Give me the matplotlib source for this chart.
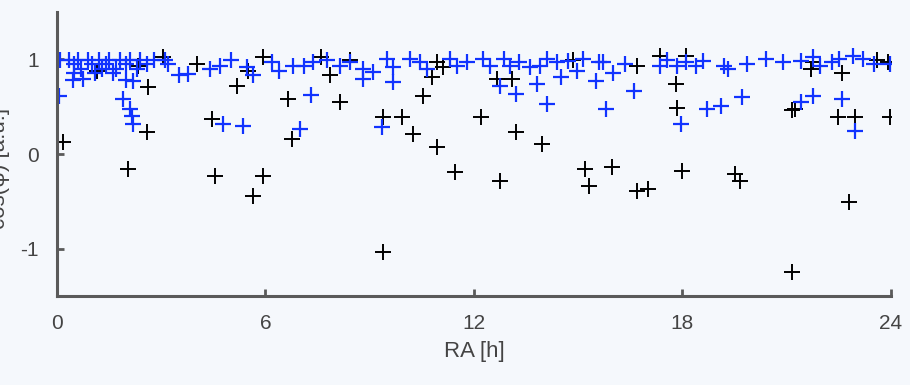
import matplotlib
matplotlib.use('Agg')
import matplotlib.pyplot as plt

# black series (RA [h], value)
black_ra = [0.18, 2.05, 2.58, 2.62, 2.33, 1.15, 3.05, 4.03, 4.45, 4.55, 5.17, 5.5,
            5.65, 5.93, 5.93, 6.65, 6.75, 7.6, 7.86, 8.14, 8.43, 9.38, 9.38, 9.93,
            10.24, 10.53, 10.8, 10.93, 10.93, 11.1, 11.45, 12.2, 12.66, 12.75, 13.1,
            13.2, 13.95, 14.85, 15.2, 15.3, 15.97, 16.7, 16.7, 17.0, 17.35, 17.8,
            17.84, 18.0, 18.1, 19.5, 19.65, 21.15, 21.15, 21.24, 21.7, 21.76, 22.47,
            22.6, 22.8, 22.96, 23.6, 23.9, 23.97]
black_val = [0.13, -0.16, 0.23, 0.71, 0.93, 0.88, 1.02, 0.95, 0.37, -0.23, 0.72, 0.88,
             -0.44, -0.23, 1.02, 0.58, 0.16, 1.02, 0.83, 0.55, 0.99, 0.39, -1.04, 0.39,
             0.21, 0.61, 0.81, 0.97, 0.07, 0.92, -0.19, 0.39, 0.79, -0.28, 0.79,
             0.23, 0.11, 0.99, -0.16, -0.34, -0.14, 0.93, -0.39, -0.37, 1.04, 0.74,
             0.49, -0.18, 1.04, -0.21, -0.28, -1.25, 0.46, 0.48, 0.9, 0.97, 0.39,
             0.85, -0.51, 0.39, 0.99, 0.97, 0.39]

# blue series
blue_ra = [0.05, 0.1, 0.35, 0.47, 0.5, 0.5, 0.6, 0.7, 0.76, 0.9, 1.0, 1.1, 1.2, 1.3,
           1.4, 1.5, 1.6, 1.7, 1.8, 1.9, 2.0, 2.0, 2.1, 2.1, 2.15, 2.2, 2.2, 2.3,
           2.4, 2.6, 2.8, 3.1, 3.2, 3.5, 3.77, 4.4, 4.7, 4.78, 5.0, 5.35, 5.47,
           5.65, 6.2, 6.4, 6.8, 7.0, 7.1, 7.3, 7.37, 7.77, 8.14, 8.43, 8.8, 8.8,
           9.1, 9.35, 9.5, 9.67, 9.67, 10.16, 10.45, 10.65, 11.3, 11.5, 11.8, 12.26,
           12.46, 12.75, 12.85, 13.04, 13.2, 13.3, 13.6, 13.8, 13.9, 14.1, 14.1,
           14.4, 14.5, 14.7, 14.96, 15.15, 15.5, 15.6, 15.7, 15.8, 16.0, 16.35,
           16.6, 17.35, 17.55, 17.84, 17.96, 18.1, 18.4, 18.6, 18.7, 19.1, 19.2,
           19.3, 19.7, 19.85, 20.4, 20.9, 21.4, 21.4, 21.75, 21.76, 21.96, 22.3,
           22.5, 22.6, 22.9, 22.96, 23.2, 23.5, 23.97]
blue_val = [0.61, 0.99, 0.99, 0.78, 0.95, 0.85, 0.99, 0.9, 0.79, 0.99, 0.95, 0.85,
            0.99, 0.9, 0.95, 0.99, 0.85, 0.9, 0.99, 0.58, 0.95, 0.78, 0.99, 0.48,
            0.40, 0.32, 0.77, 0.9, 0.99, 0.95, 0.99, 0.99, 0.95, 0.83, 0.84, 0.9,
            0.93, 0.32, 0.99, 0.30, 0.92, 0.83, 0.97, 0.88, 0.93, 0.26, 0.93, 0.62,
            0.97, 0.99, 0.93, 0.97, 0.9, 0.79, 0.87, 0.28, 1.0, 0.92, 0.76, 1.0,
            0.97, 0.9, 1.0, 0.93, 0.97, 1.0, 0.93, 0.72, 1.0, 0.93, 0.63, 0.97,
            0.92, 0.74, 0.93, 1.0, 0.53, 0.97, 0.81, 0.98, 0.88, 1.0, 0.77, 0.97,
            0.97, 0.48, 0.85, 0.95, 0.67, 0.93, 0.99, 0.93, 0.32, 0.97, 0.93, 0.98,
            0.48, 0.51, 0.93, 0.9, 0.6, 0.95, 1.0, 0.97, 0.98, 0.55, 0.61, 1.02,
            0.93, 0.97, 1.0, 0.58, 1.04, 0.24, 1.0, 0.95, 0.95]

x_ticks = [0, 6, 12, 18, 24]
y_ticks = [-1, 0, 1]

bg = '#f5f8fc'
grey = '#5a5a5a'
plt.rcParams['font.family'] = ['Liberation Sans', 'DejaVu Sans']
plt.rcParams['axes.unicode_minus'] = False

fig = plt.figure(figsize=(9.1, 3.85), dpi=100, facecolor=bg)
ax = fig.add_axes([0.0626, 0.231, 0.9165, 0.738], facecolor=bg)

ax.plot(black_ra, black_val, '+', color='black', ms=12, mew=1.4)
ax.plot(blue_ra, blue_val, '+', color='#1133ff', ms=12, mew=1.6)

ax.set_xlim(0, 24)
ax.set_ylim(-1.5, 1.5)
ax.set_xticks(x_ticks)
ax.set_yticks(y_ticks)

for s in ['top', 'right']:
    ax.spines[s].set_visible(False)
for s in ['left', 'bottom']:
    ax.spines[s].set_color(grey)
    ax.spines[s].set_linewidth(2.2)
ax.tick_params(direction='in', length=5, width=2, color=grey,
               labelcolor='#444444', labelsize=15)
ax.tick_params(axis='x', pad=13)
ax.tick_params(axis='y', pad=13)

ax.set_xlabel('RA [h]', fontsize=16, color='#444444', labelpad=6)
# the reference shows this label partly cut at the left edge
ax.set_ylabel('cos(ψ) [a.u.]', fontsize=16, color='#444444')
ax.yaxis.set_label_coords(-0.056, 0.45)

fig.savefig('out.png', dpi=100, facecolor=bg)
